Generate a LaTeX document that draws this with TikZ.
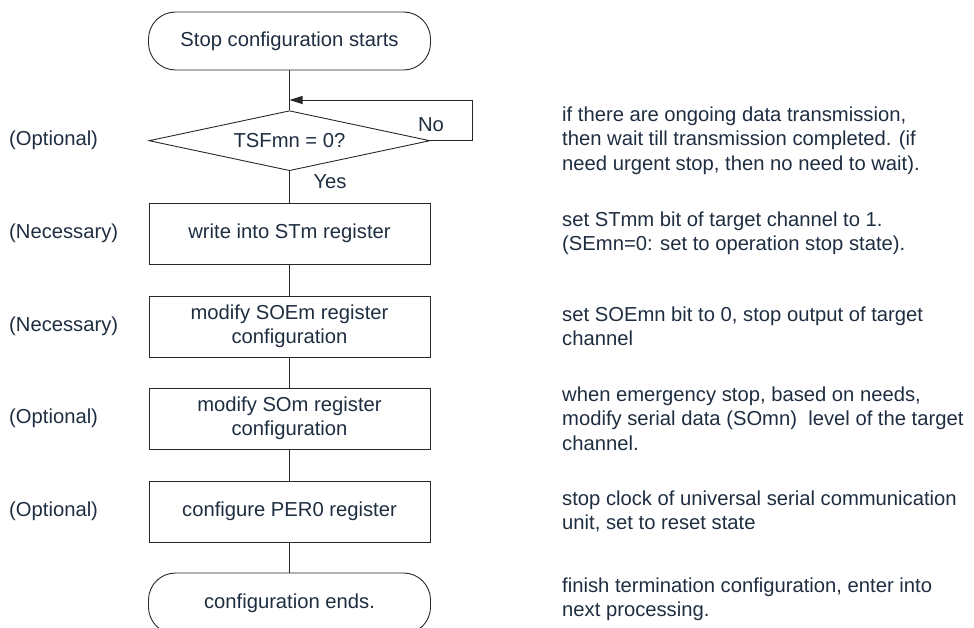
\documentclass[tikz,border=0pt]{standalone}
\usepackage{fontspec}
\setmainfont{Liberation Sans}
\usetikzlibrary{shapes.geometric,arrows.meta}
\definecolor{txt}{RGB}{30,45,64}
\definecolor{ln}{RGB}{40,40,40}
\begin{document}
\begin{tikzpicture}[x=1bp,y=-1bp,
  every node/.style={text=txt, font=\fontsize{20.3}{24.5}\selectfont},
  conn/.style={draw=ln, line width=0.9bp},
  procbox/.style={draw=ln, line width=0.9bp, minimum width=281bp, minimum height=61bp, inner sep=0pt, align=center},
  term/.style={draw=ln, line width=0.9bp, rounded corners=27bp, minimum width=282bp, minimum height=58bp, inner sep=0pt},
  decis/.style={diamond, draw=ln, line width=0.9bp, aspect=4.7, minimum width=281bp, minimum height=60bp, inner sep=0pt},
  note/.style={anchor=west, align=left, inner sep=0pt},
  side/.style={anchor=west, inner sep=0pt}]
\useasboundingbox (0,0) rectangle (974,628);
\clip (0,0) rectangle (974,628);

\node[term] (start) at (289.5,41) {Stop configuration starts};
\node[decis] (dec) at (289.5,140.7) {TSFmn = 0?};
\node[procbox] (b1) at (289.5,233.5) {write into STm register};
\node[procbox] (b2) at (289.5,326.5) {modify SOEm register\\configuration};
\node[procbox] (b3) at (289.5,418.5) {modify SOm register\\configuration};
\node[procbox] (b4) at (289.5,511.5) {configure PER0 register};
\node[term, minimum height=61bp] (end) at (289.5,603.5) {configuration ends.};

\coordinate (m) at (289.5,100);
\coordinate (lc) at (472,140.7);

\draw[conn] (start) -- (dec);
\draw[conn] (dec) -- (b1);
\draw[conn] (b1) -- (b2);
\draw[conn] (b2) -- (b3);
\draw[conn] (b3) -- (b4);
\draw[conn] (b4) -- (end);
\draw[conn, -{Triangle[length=13bp,width=8bp]}] (dec.east) -- (lc) |- (m);

\node (no) at (431,125) {No};
\node (yes) at (330,182) {Yes};

\node[side] (l0) at (9,140.7) {(Optional)};
\node[side] (l1) at (9,233.5) {(Necessary)};
\node[side] (l2) at (9,326.5) {(Necessary)};
\node[side] (l3) at (9,418.5) {(Optional)};
\node[side] (l4) at (9,511.5) {(Optional)};

\node[note] (n0) at (562,140.7) {if there are ongoing data transmission,\\then wait till transmission completed. (if\\need urgent stop, then no need to wait).};
\node[note] (n1) at (562,233.5) {set STmm bit of target channel to 1.\\(SEmn=0: set to operation stop state).};
\node[note] (n2) at (562,326.5) {set SOEmn bit to 0, stop output of target\\channel};
\node[note] (n3) at (562,418.5) {when emergency stop, based on needs,\\modify serial data (SOmn)\ \ level of the target\\channel.};
\node[note] (n4) at (562,511.5) {stop clock of universal serial communication\\unit, set to reset state};
\node[note] (n5) at (562,599) {finish termination configuration, enter into\\next processing.};
\end{tikzpicture}
\end{document}
